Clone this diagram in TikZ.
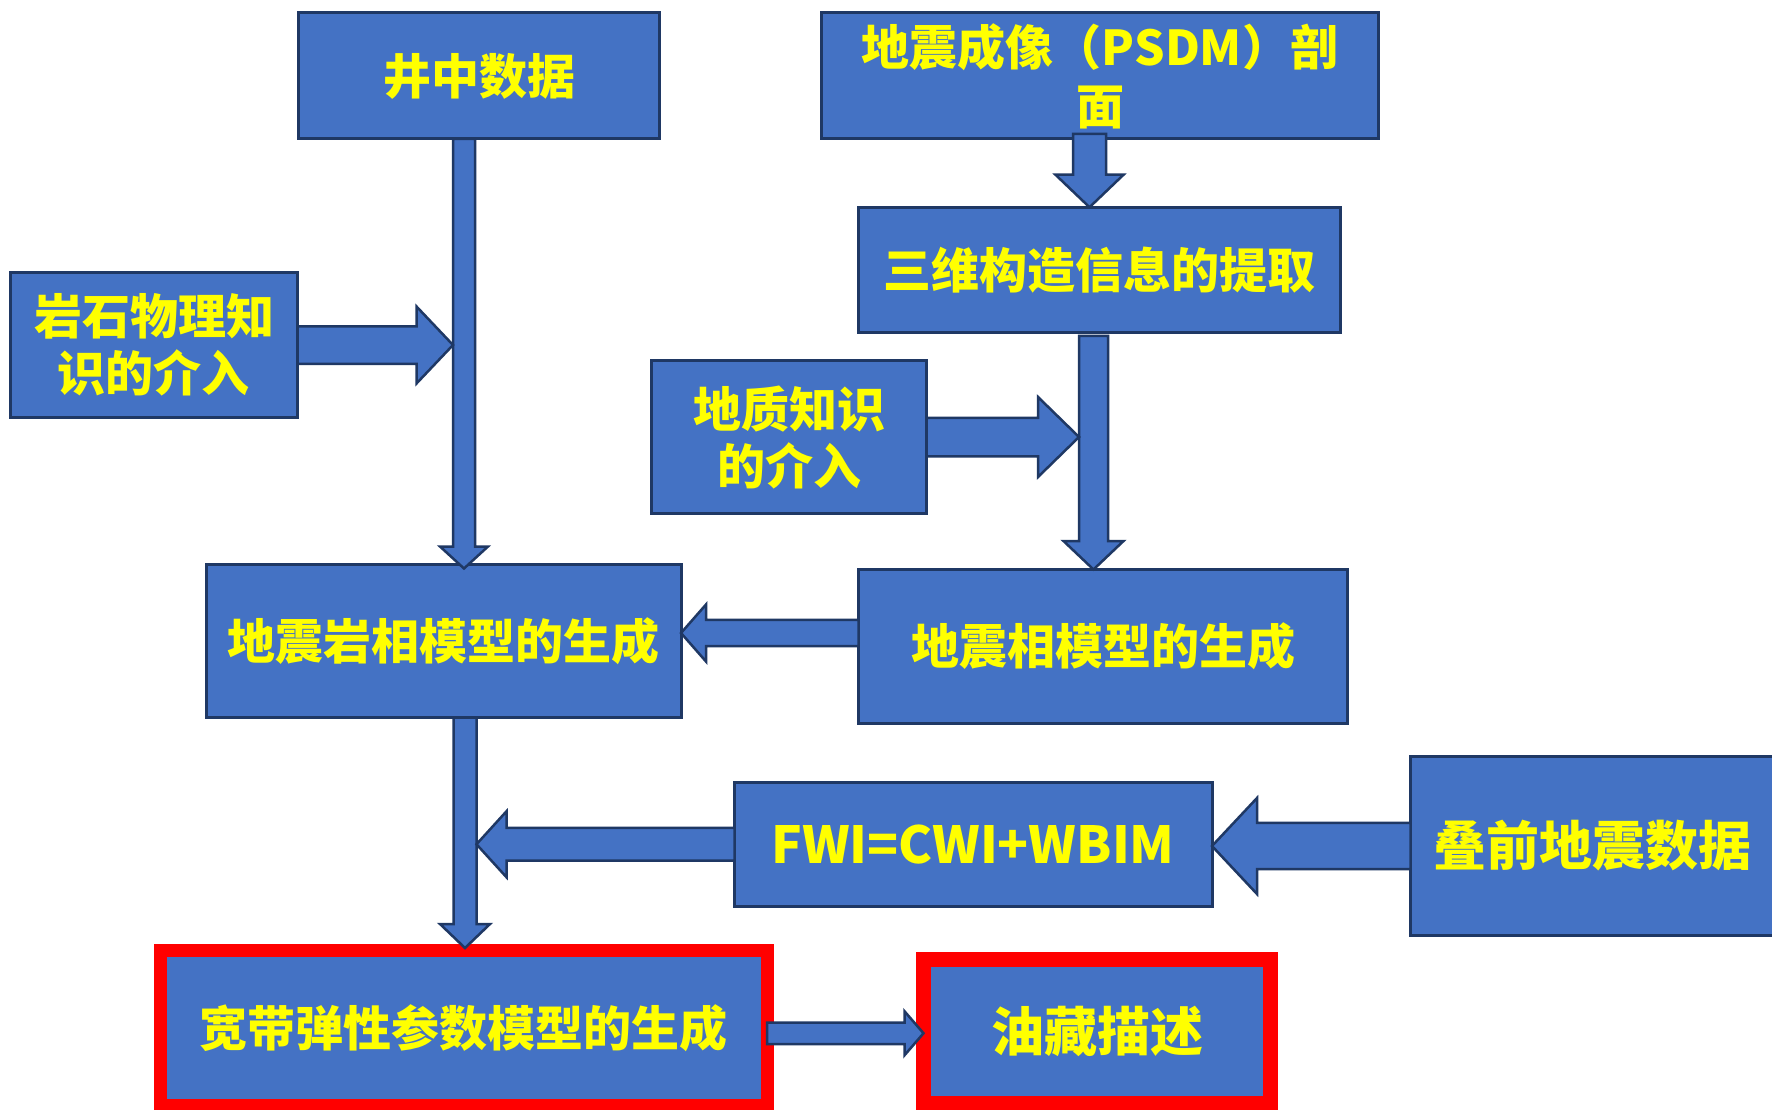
\documentclass[tikz,border=0pt]{standalone}
\usepackage{fontspec}
\setmainfont{Noto Sans CJK SC}
\usetikzlibrary{calc}
\definecolor{boxblue}{HTML}{4472C4}
\definecolor{navy}{HTML}{1F3864}
\definecolor{txtyellow}{HTML}{FFFF00}
\definecolor{hired}{HTML}{FF0000}
\newcommand{\blkarrow}[5]{%
  \path[blkarrow] let \p1=(#1), \p2=(#2), \p3=($(\p2)!#5!(\p1)$) in
    ($(\p1)!#3!90:(\p2)$) -- ($(\p3)!#3!-90:(\p1)$) -- ($(\p3)!#4!-90:(\p1)$) -- (\p2)
    -- ($(\p3)!#4!90:(\p1)$) -- ($(\p3)!#3!90:(\p1)$) -- ($(\p1)!#3!-90:(\p2)$) -- cycle;}
\tikzset{
  box/.style={draw=navy, line width=3pt, fill=boxblue, text=txtyellow, align=center,
    inner sep=0pt, outer sep=0pt, font=\fontsize{48}{57}\selectfont\bfseries},
  bigtext/.style={font=\fontsize{53}{62}\selectfont\bfseries},
  redbox/.style={box, draw=hired},
  blkarrow/.style={draw=navy, line width=2.5pt, fill=boxblue, line join=miter}
}
\begin{document}
\begin{tikzpicture}[x=1pt, y=-1pt]
\fill[white] (0,0) rectangle (1772,1110);
\useasboundingbox (0,0) rectangle (1772,1110);
% boxes
\node[box, minimum width=361pt, minimum height=126pt] (jz) at (479,76) {井中数据};
\node[box, minimum width=557pt, minimum height=126pt, font=\fontsize{48}{59}\selectfont\bfseries] (dz) at (1100,76) {地震成像（PSDM）剖\\面};
\node[box, minimum width=482pt, minimum height=125.5pt] (sw) at (1099.5,270) {三维构造信息的提取};
\node[box, minimum width=287pt, minimum height=145.5pt] (ys) at (154,345) {岩石物理知\\识的介入};
\node[box, minimum width=275pt, minimum height=153.5pt] (dzk) at (789,437) {地质知识\\的介入};
\node[box, minimum width=474.5pt, minimum height=153pt] (yx) at (443.75,641) {地震岩相模型的生成};
\node[box, minimum width=489pt, minimum height=154pt] (dx) at (1103,646.5) {地震相模型的生成};
\node[box, minimum width=477.5pt, minimum height=123.5pt, font=\fontsize{51}{60}\selectfont\bfseries] (fwi) at (973.25,844.25) {FWI=CWI+WBIM};
\node[box, bigtext, minimum width=364pt, minimum height=179pt] (dq) at (1592.5,846) {叠前地震数据};
\node[redbox, line width=13pt, minimum width=607pt, minimum height=154.5pt] (kd) at (463.5,1027.75) {宽带弹性参数模型的生成};
\node[redbox, bigtext, line width=15pt, minimum width=347pt, minimum height=144.5pt] (yc) at (1097,1031.25) {油藏描述};
% arrow anchor points
\coordinate (a1s) at ([xshift=-10.5pt,yshift=5pt]dz.south);
\coordinate (a1t) at (a1s |- sw.north);
\coordinate (a2s) at ([xshift=-6pt,yshift=-3pt]sw.south);
\coordinate (a2t) at (a2s |- dx.north);
\coordinate (a2l) at ([xshift=-14.5pt]a2s);
\coordinate (a3s) at ([xshift=-15pt]jz.south);
\coordinate (a3m) at (a3s |- yx.north);
\coordinate (a3t) at ([yshift=-4pt]a3m);
\coordinate (a3l) at ([xshift=-11pt]a3s);
\coordinate (a6s) at ([yshift=13.5pt]dx.west);
\coordinate (a7s) at ([xshift=21.25pt]yx.south);
\coordinate (a7m) at (a7s |- kd.north);
\coordinate (a7t) at ([yshift=2.5pt]a7m);
\coordinate (a7r) at ([xshift=11.5pt]a7s);
\coordinate (a10s) at ([yshift=-5.5pt]kd.east);
% arrows
\blkarrow{a1s}{a1t}{16.5pt}{34pt}{32.5pt}
\blkarrow{a2s}{a2t}{14.5pt}{30pt}{28.5pt}
\blkarrow{a3s}{a3t}{11pt}{24pt}{22pt}
\blkarrow{ys.east}{ys.east -| a3l}{18.75pt}{38.5pt}{36.5pt}
\blkarrow{dzk.east}{dzk.east -| a2l}{19.25pt}{40pt}{41pt}
\blkarrow{a6s}{a6s -| yx.east}{13.2pt}{28.5pt}{25pt}
\blkarrow{a7s}{a7t}{11.5pt}{25pt}{24pt}
\blkarrow{fwi.west}{fwi.west -| a7r}{16.4pt}{33pt}{30pt}
\blkarrow{dq.west}{dq.west -| fwi.east}{23.2pt}{48pt}{45pt}
\blkarrow{a10s}{a10s -| yc.west}{10.75pt}{22pt}{19pt}
\end{tikzpicture}
\end{document}
